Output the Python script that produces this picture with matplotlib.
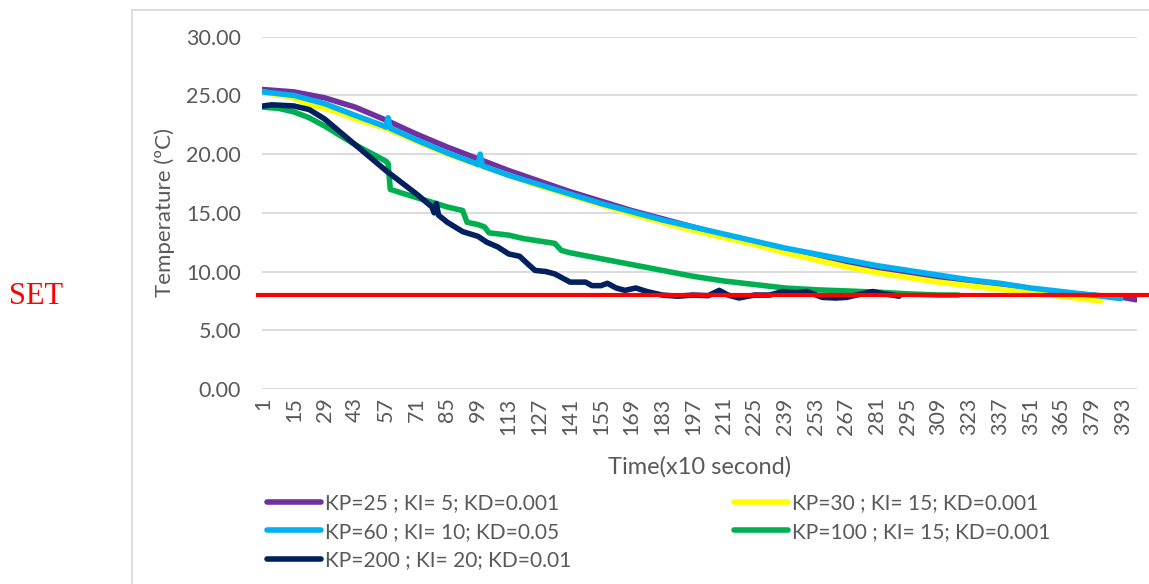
import matplotlib.pyplot as plt
from matplotlib.lines import Line2D

# time index (x10 s) and temperature readings
t_25 = [1, 15, 29, 43, 57, 71, 85, 99, 113, 127, 141, 155, 169, 183, 197, 211,
        225, 239, 253, 267, 281, 295, 309, 323, 337, 351, 365, 379, 393, 399]
temp_25 = [25.5, 25.3, 24.8, 24.0, 22.9, 21.7, 20.6, 19.6, 18.6, 17.7, 16.8, 16.0,
           15.2, 14.5, 13.8, 13.1, 12.5, 11.9, 11.3, 10.7, 10.2, 9.8, 9.4, 9.1,
           8.8, 8.5, 8.2, 8.0, 7.8, 7.6]

t_30 = [1, 15, 22, 29, 36, 43, 57, 71, 85, 99, 113, 127, 141, 155, 169, 183, 197,
        211, 225, 239, 253, 267, 281, 295, 309, 323, 337, 351, 365, 383]
temp_30 = [25.3, 24.8, 24.2, 23.9, 23.5, 23.0, 22.2, 21.1, 20.0, 19.1, 18.2, 17.3,
           16.5, 15.7, 14.9, 14.2, 13.5, 12.9, 12.3, 11.6, 11.0, 10.4, 9.9, 9.5,
           9.1, 8.8, 8.5, 8.2, 7.9, 7.5]

t_60 = [1, 15, 29, 43, 56, 57, 58, 59, 71, 85, 98, 99, 100, 101, 113, 127, 141,
        155, 169, 183, 197, 211, 225, 239, 253, 267, 281, 295, 309, 323, 337,
        351, 365, 379, 392]
temp_60 = [25.3, 25.0, 24.3, 23.3, 22.4, 22.3, 23.1, 22.2, 21.2, 20.1, 19.2, 19.1,
           20.0, 19.0, 18.2, 17.4, 16.6, 15.8, 15.1, 14.4, 13.8, 13.2, 12.6, 12.0,
           11.5, 11.0, 10.5, 10.1, 9.7, 9.3, 9.0, 8.6, 8.3, 8.0, 7.7]

t_100 = [1, 8, 15, 22, 29, 36, 43, 50, 57, 58, 59, 64, 71, 78, 85, 92, 94, 99,
         102, 104, 113, 120, 127, 134, 137, 141, 155, 169, 183, 197, 211, 225,
         239, 253, 267, 281, 295, 309, 318]
temp_100 = [24.0, 23.9, 23.6, 23.1, 22.4, 21.6, 20.8, 20.1, 19.4, 19.2, 17.0, 16.7,
            16.3, 15.9, 15.5, 15.2, 14.2, 14.0, 13.8, 13.3, 13.1, 12.8, 12.6, 12.4,
            11.8, 11.6, 11.1, 10.6, 10.1, 9.6, 9.2, 8.9, 8.6, 8.45, 8.35, 8.25,
            8.1, 8.0, 8.0]

t_200 = [1, 5, 15, 22, 29, 36, 43, 50, 57, 64, 71, 78, 79, 80, 81, 85, 92, 99,
         103, 108, 113, 118, 122, 125, 130, 134, 138, 141, 148, 151, 155, 158,
         162, 166, 171, 176, 183, 190, 197, 204, 209, 213, 218, 225, 232, 238,
         244, 249, 256, 262, 267, 274, 279, 284, 288, 291]
temp_200 = [24.1, 24.2, 24.1, 23.8, 23.0, 21.9, 20.8, 19.7, 18.6, 17.6, 16.6, 15.5,
            15.0, 15.8, 14.8, 14.2, 13.4, 13.0, 12.5, 12.1, 11.5, 11.3, 10.6, 10.1,
            10.0, 9.8, 9.4, 9.1, 9.1, 8.8, 8.8, 9.0, 8.6, 8.4, 8.6, 8.3, 8.0, 7.9,
            8.0, 7.95, 8.4, 8.0, 7.75, 8.0, 8.0, 8.3, 8.2, 8.3, 7.8, 7.75, 7.8,
            8.1, 8.3, 8.1, 8.0, 7.9]

set_point = 8.0
labels = ["KP=25 ; KI= 5; KD=0.001", "KP=30 ; KI= 15; KD=0.001",
          "KP=60 ; KI= 10; KD=0.05", "KP=100 ; KI= 15; KD=0.001",
          "KP=200 ; KI= 20; KD=0.01"]
colors = ["#7030A0", "#FFFF00", "#00B0F0", "#00B050", "#002060"]
xticks = list(range(1, 400, 14))

plt.rcParams['font.family'] = ['Lato', 'DejaVu Sans']
grey = "#595959"

fig = plt.figure(figsize=(11.49, 5.84), dpi=100)
ax = fig.add_axes([262/1149, 1 - 389/584, 875/1149, (389 - 36.7)/584])

series = [(t_25, temp_25), (t_30, temp_30), (t_60, temp_60),
          (t_100, temp_100), (t_200, temp_200)]
for (tx, ty), c, lab in zip(series, colors, labels):
    ax.plot(tx, ty, color=c, lw=4.0, label=lab, solid_capstyle='round',
            solid_joinstyle='round', zorder=3)

# set point line runs past the plot area to the right edge
ax.plot([-0.005, 1.05], [set_point, set_point], color="#FF0000", lw=3,
        transform=ax.get_yaxis_transform(), clip_on=False, zorder=4)

ax.set_xlim(0.5, 399.5)
ax.set_ylim(0, 30)
ax.set_yticks(range(0, 31, 5))
ax.set_yticklabels([f"{v:.2f}" for v in range(0, 31, 5)])
ax.set_xticks(xticks)
ax.set_xticklabels([str(v) for v in xticks], rotation=90)
ax.tick_params(length=0, colors=grey, labelsize=15.5)
ax.tick_params(axis='y', pad=15)
ax.tick_params(axis='x', pad=6)
ax.grid(axis='y', color="#D9D9D9", lw=1.3)
ax.set_axisbelow(True)
for s in ax.spines.values():
    s.set_visible(False)

ax.set_xlabel("Time(x10 second)", color=grey, fontsize=17, labelpad=15)
ax.set_ylabel("Temperature (ºC)", color=grey, fontsize=16, labelpad=8)

fig.text(36/1149, 1 - 296/584, "SET", color="#FF0000", fontsize=22,
         family="Liberation Serif", ha="center", va="center")

# outer chart frame
fig.add_artist(Line2D([132/1149, 132/1149], [0, 1 - 10/584], color="#D9D9D9", lw=1.2))
fig.add_artist(Line2D([132/1149, 1], [1 - 10/584, 1 - 10/584], color="#D9D9D9", lw=1.2))

h, l = ax.get_legend_handles_labels()
order = [0, 2, 4, 1, 3]
fig.legend([h[i] for i in order], [l[i] for i in order], ncol=2,
           loc="upper left", bbox_to_anchor=(267/1149, 1 - 493/584),
           frameon=False, fontsize=15, labelcolor=grey, handlelength=2.6,
           handletextpad=0.2, columnspacing=7.8, labelspacing=0.42,
           borderpad=0, borderaxespad=0)

fig.savefig("out.png", dpi=100)
